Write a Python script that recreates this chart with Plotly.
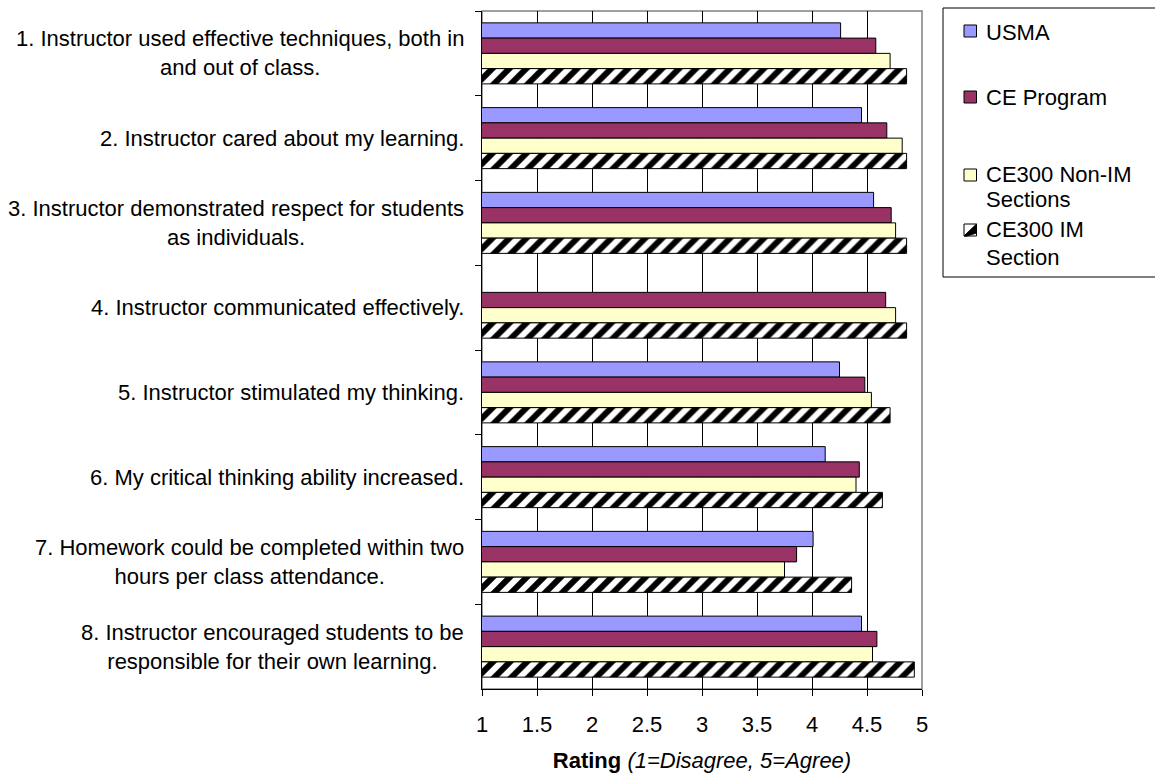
import plotly.graph_objects as go

# Survey items (top to bottom)
questions = [
    "1. Instructor used effective techniques, both in<br>and out of class.",
    "2. Instructor cared about my learning.",
    "3. Instructor demonstrated respect for students<br>as individuals.",
    "4. Instructor communicated effectively.",
    "5. Instructor stimulated my thinking.",
    "6. My critical thinking ability increased.",
    "7. Homework could be completed within two<br>hours per class attendance.",
    "8. Instructor encouraged students to be<br>responsible for their own learning.",
]

# Mean ratings per group
usma = [4.26, 4.45, 4.56, None, 4.25, 4.12, 4.01, 4.45]
ce_program = [4.58, 4.68, 4.72, 4.67, 4.48, 4.43, 3.86, 4.59]
ce300_non_im = [4.71, 4.82, 4.76, 4.76, 4.54, 4.40, 3.75, 4.55]
ce300_im = [4.86, 4.86, 4.86, 4.86, 4.71, 4.64, 4.36, 4.93]

series_names = ["USMA", "CE Program", "CE300 Non-IM Sections", "CE300 IM Section"]
legend_lines = [["USMA"], ["CE Program"], ["CE300 Non-IM", "Sections"], ["CE300 IM", "Section"]]

x_ticks = [1, 1.5, 2, 2.5, 3, 3.5, 4, 4.5, 5]
x_tick_text = ["1", "1.5", "2", "2.5", "3", "3.5", "4", "4.5", "5"]

FONT = "Arial, 'Liberation Sans', sans-serif"
FS = 22

W, H = 1155, 775
ML, MR, MT, MB = 482, 233, 11, 86
PW, PH = W - ML - MR, H - MT - MB


def px_x(x):
    return (x - ML) / PW


def px_y(y):
    return (H - MB - y) / PH


hatch = dict(shape="/", fgcolor="black", bgcolor="white", size=12,
             solidity=0.5, fillmode="replace")
fills = ["#9999FF", "#993366", "#FFFFCC", None]
values = [usma, ce_program, ce300_non_im, ce300_im]

fig = go.Figure()
for name, vals, fc in zip(series_names, values, fills):
    mk = dict(color=fc) if fc else dict(color="white", pattern=hatch)
    fig.add_trace(go.Bar(
        x=vals, y=questions, orientation="h", name=name, showlegend=False,
        marker=dict(**mk, line=dict(color="black", width=1)),
    ))

# category labels: block right-aligned, lines centred
for q in questions:
    fig.add_annotation(
        x=px_x(466), xref="paper", xanchor="right",
        y=q, yref="y", yanchor="middle",
        text=q, showarrow=False, align="center",
        font=dict(family=FONT, size=FS, color="black"),
    )

# grey plot frame
fig.add_shape(type="rect", xref="paper", yref="paper", x0=0, x1=1, y0=0, y1=1,
              line=dict(color="#808080", width=1.5), layer="below")

# legend box
fig.add_shape(type="rect", xref="paper", yref="paper",
              x0=px_x(943), x1=px_x(1170), y0=px_y(277), y1=px_y(8),
              line=dict(color="black", width=1), fillcolor="white")

# legend entries: swatch centre y, text line centres
swatch_y = [31, 97, 175, 230]
text_y = [[32], [97], [174, 199], [230, 257]]
sw_l, sw_r = 964, 976.5
for fc, sy, lines, ty in zip(fills, swatch_y, legend_lines, text_y):
    y0, y1 = sy + 6, sy - 6
    fig.add_shape(type="rect", xref="paper", yref="paper",
                  x0=px_x(sw_l), x1=px_x(sw_r), y0=px_y(y0), y1=px_y(y1),
                  line=dict(color="black", width=1),
                  fillcolor=fc if fc else "white")
    if fc is None:
        fig.add_shape(type="path", xref="paper", yref="paper",
                      path=(f"M {px_x(sw_l)},{px_y(y0)} L {px_x(sw_r)},{px_y(y1)} "
                            f"L {px_x(sw_r)},{px_y(y0 - 3)} L {px_x(sw_l + 3)},{px_y(y0)} Z"),
                      line=dict(color="black", width=1), fillcolor="black")
    for line, yy in zip(lines, ty):
        fig.add_annotation(
            x=px_x(984), xref="paper", xanchor="left",
            y=px_y(yy), yref="paper", yanchor="middle",
            text=line, showarrow=False,
            font=dict(family=FONT, size=FS, color="black"),
        )

fig.update_layout(
    width=W, height=H,
    margin=dict(l=ML, r=MR, t=MT, b=MB, autoexpand=False),
    paper_bgcolor="white", plot_bgcolor="white",
    barmode="group", bargap=0.28, bargroupgap=0,
    font=dict(family=FONT, size=FS, color="black"),
    showlegend=False,
)

fig.update_xaxes(
    range=[1, 5], tickvals=x_ticks, ticktext=x_tick_text,
    showgrid=True, gridcolor="#000000", gridwidth=1,
    showline=True, linecolor="black", linewidth=1,
    ticks="outside", ticklen=6, tickcolor="black",
    ticklabelstandoff=10, zeroline=False,
    tickfont=dict(family=FONT, size=FS, color="black"),
    title=dict(text="<b>Rating</b> <i>(1=Disagree, 5=Agree)</i>",
               font=dict(family=FONT, size=FS, color="black"), standoff=16),
)
fig.update_yaxes(
    autorange="reversed", showticklabels=False,
    tickson="boundaries", ticks="outside", ticklen=6, tickcolor="black",
    showline=True, linecolor="black", linewidth=1,
    showgrid=False, zeroline=False,
)

fig.write_html("out.html")
